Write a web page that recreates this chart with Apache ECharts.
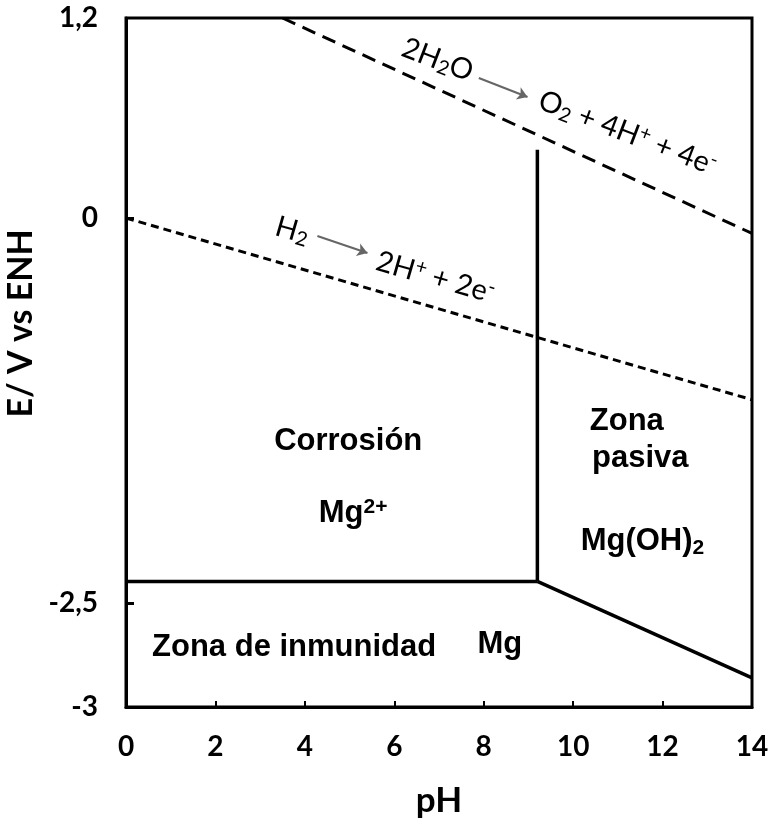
<!DOCTYPE html>
<html><head><meta charset="utf-8">
<script src="https://cdn.jsdelivr.net/npm/echarts@6/dist/echarts.min.js"></script>
<style>html,body{margin:0;padding:0;background:#fff}#c{width:769px;height:827px}</style>
</head><body><div id="c"></div>
<script>
// ---------- data (pH, E in V vs ENH) ----------
const phTicks = [0, 2, 4, 6, 8, 10, 12, 14];
const eTickValues = [-3, -2.5, 0, 1.2];
const eTickLabels = ['-3', '-2,5', '0', '1,2'];

const mgPH = [0, 9.2];          // Mg / Mg2+ boundary
const mgE = [-2.36, -2.36];
const passPH = [9.2, 9.2];      // Mg2+ / Mg(OH)2 boundary
const passE = [-2.36, 0.41];
const hydPH = [9.2, 14];        // Mg / Mg(OH)2 boundary
const hydE = [-2.36, -2.86];
const h2PH = [0, 14];           // H2 line
const h2E = [0, -1.18];
const o2PH = [3.5, 14];         // O2 line
const o2E = [1.2, -0.1];

// ---------- piecewise (non-uniform) E scale as in the original ----------
const scaleE = [-3, -2.5, 0, 1.2];
const scalePos = [0, 104, 489, 689];
function toPos(e) {
  for (let i = 0; i < scaleE.length - 1; i++) {
    if (e <= scaleE[i + 1] || i === scaleE.length - 2) {
      const t = (e - scaleE[i]) / (scaleE[i + 1] - scaleE[i]);
      return scalePos[i] + t * (scalePos[i + 1] - scalePos[i]);
    }
  }
}
function pts(xs, ys) { return xs.map((x, i) => [x, toPos(ys[i])]); }

const chart = echarts.init(document.getElementById('c'), null, { renderer: 'canvas' });

const solid = { color: '#000', width: 3.5 };
function lineSeries(name, data, style) {
  return { name, type: 'line', data, symbol: 'none', silent: true, animation: false,
    lineStyle: style, z: 3 };
}

const calib = 'Lato';
const arial = 'Liberation Sans';
const rxRich = {
  n: { fontFamily: calib, fontSize: 29, lineHeight: 32, color: '#000' },
  s: { fontFamily: calib, fontSize: 20, lineHeight: 15, verticalAlign: 'bottom', color: '#000' },
  p: { fontFamily: calib, fontSize: 20, lineHeight: 15, verticalAlign: 'top', color: '#000' }
};
const zRich = {
  n: { fontFamily: arial, fontSize: 31, fontWeight: 'bold', lineHeight: 34, color: '#000' },
  s: { fontFamily: arial, fontSize: 21, fontWeight: 'bold', lineHeight: 16, verticalAlign: 'bottom', color: '#000' },
  p: { fontFamily: arial, fontSize: 21, fontWeight: 'bold', lineHeight: 16, verticalAlign: 'top', color: '#000' }
};
function lab(ph, e, text, rich, rotate) {
  return { value: [ph, toPos(e)], label: { show: true, position: 'inside', formatter: text, rich, rotate: rotate || 0, opacity: 1 } };
}

const labels = [
  lab(6.97, 0.95, '{n|2H}{s|2}{n|O}', rxRich, -21),
  lab(11.22, 0.51, '{n|O}{s|2}{n| + 4H}{p|+}{n| + 4e}{p|-}', rxRich, -21),
  lab(3.72, -0.08, '{n|H}{s|2}', rxRich, -16),
  lab(6.92, -0.385, '{n|2H}{p|+}{n| + 2e}{p|-}', rxRich, -16),
  lab(4.97, -1.45, '{n|Corrosión}', zRich),
  lab(5.08, -1.92, '{n|Mg}{p|2+}', zRich),
  lab(11.2, -1.32, '{n|Zona}', zRich),
  lab(11.5, -1.56, '{n|pasiva}', zRich),
  lab(11.55, -2.10, '{n|Mg(OH)}{s|2}', zRich),
  lab(3.76, -2.715, '{n|Zona de inmunidad}', zRich),
  lab(8.36, -2.70, '{n|Mg}', zRich)
];

const arrows = [
  { coords: [[7.89, toPos(0.84)], [8.98, toPos(0.726)]] },
  { coords: [[4.28, toPos(-0.117)], [5.40, toPos(-0.227)]] }
];

const option = {
  animation: false,
  backgroundColor: '#fff',
  grid: { left: 126, right: 17, top: 18, bottom: 120, containLabel: false, outerBoundsMode: 'none',
    show: true, borderColor: '#000', borderWidth: 3, backgroundColor: 'transparent' },
  xAxis: {
    type: 'value', min: phTicks[0], max: phTicks[phTicks.length - 1], interval: 2,
    axisLine: { lineStyle: { color: '#000', width: 3 } },
    axisTick: { inside: true, length: 6, lineStyle: { color: '#000', width: 2 } },
    axisLabel: { margin: 26, fontFamily: calib, fontSize: 28, fontWeight: 'bold', color: '#000' },
    splitLine: { show: false },
    name: 'pH', nameLocation: 'middle', nameGap: 76,
    nameTextStyle: { fontFamily: calib, fontSize: 35, fontWeight: 'bold', color: '#000' }
  },
  yAxis: {
    type: 'value', min: scalePos[0], max: scalePos[scalePos.length - 1],
    axisLine: { lineStyle: { color: '#000', width: 3 } },
    axisTick: { inside: true, length: 8, lineStyle: { color: '#000', width: 3 },
      customValues: [toPos(-2.5), toPos(0)] },
    axisLabel: { margin: 28, fontFamily: calib, fontSize: 28, fontWeight: 'bold', color: '#000',
      customValues: eTickValues.map(toPos),
      formatter: function (v) {
        const i = eTickValues.findIndex(e => Math.abs(toPos(e) - v) < 0.5);
        return i >= 0 ? eTickLabels[i] : '';
      } },
    splitLine: { show: false },
    name: 'E/ V vs ENH', nameLocation: 'middle', nameGap: 84,
    nameTextStyle: { fontFamily: calib, fontSize: 34, fontWeight: 'bold', color: '#000', padding: [0, 0, 0, 78] }
  },
  series: [
    lineSeries('Mg/Mg2+', pts(mgPH, mgE), solid),
    lineSeries('Mg2+/Mg(OH)2', pts(passPH, passE), solid),
    lineSeries('Mg/Mg(OH)2', pts(hydPH, hydE), solid),
    lineSeries('H2', pts(h2PH, h2E), { color: '#000', width: 3, type: [8, 5] }),
    lineSeries('O2', pts(o2PH, o2E), { color: '#000', width: 3, type: [14, 8] }),
    { type: 'lines', coordinateSystem: 'cartesian2d', silent: true, z: 4,
      symbol: ['none', 'arrow'], symbolSize: 10,
      lineStyle: { color: '#666', width: 2, opacity: 1 },
      data: arrows },
    { type: 'scatter', symbolSize: 0, silent: true, z: 5, itemStyle: { opacity: 1 }, data: labels }
  ]
};
chart.setOption(option);
</script>
</body></html>
